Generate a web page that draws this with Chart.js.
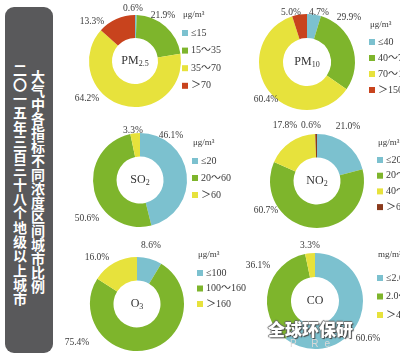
<!DOCTYPE html>
<html>
<head>
<meta charset="utf-8">
<script src="https://cdn.jsdelivr.net/npm/chart.js@4.4.1/dist/chart.umd.min.js"></script>
<style>
  html, body { margin: 0; padding: 0; background: #fff; }
  body { width: 400px; height: 360px; position: relative; overflow: hidden; }
  #side { position: absolute; left: 5px; top: 7px; width: 48px; height: 346px; background: #59595b; border-radius: 9px; }
  .col { position: absolute; writing-mode: vertical-rl; color: #fff; font-family: "Noto Sans CJK SC"; font-weight: bold; font-size: 14px; line-height: 14px; white-space: nowrap; }
  canvas { position: absolute; }
  #wm { position: absolute; left: 268px; top: 316px; font-family: "Noto Sans CJK SC"; font-weight: 900; font-size: 17px; color: #fff;
        text-shadow: 1px 1px 1px #444, -1px 0 1px #666, 0 -1px 1px #666; white-space: nowrap; }
  #wm2 { position: absolute; left: 290px; top: 338px; font-family: "Liberation Sans"; font-size: 10px; color: #d8d8d8; letter-spacing: 6px; }
</style>
</head>
<body>
<div id="side"></div>
<div class="col" style="left:31px; top:70px;">大气中各指标不同浓度区间城市比例</div>
<div class="col" style="left:13px; top:63px; letter-spacing:0.3px;">二〇一五年三百三十八个地级以上城市</div>

<canvas id="pm25"></canvas>
<canvas id="pm10"></canvas>
<canvas id="so2"></canvas>
<canvas id="no2"></canvas>
<canvas id="o3"></canvas>
<canvas id="co"></canvas>

<div id="wm">全球环保研</div>
<div id="wm2">P Re</div>

<script>
// ---- data (percent of cities in each concentration band) ----
const pm25Labels = ["≤15", "15～35", "35～70", "＞70"];
const pm25Values = [0.6, 21.9, 64.2, 13.3];

const pm10Labels = ["≤40", "40～70", "70～150", "＞150"];
const pm10Values = [4.7, 29.9, 60.4, 5.0];

const so2Labels = ["≤20", "20～60", "＞60"];
const so2Values = [46.1, 50.6, 3.3];

const no2Labels = ["≤20", "20～40", "40～60", "＞60"];
const no2Values = [21.0, 60.7, 17.8, 0.6];

const o3Labels = ["≤100", "100～160", "＞160"];
const o3Values = [8.6, 75.4, 16.0];

const coLabels = ["≤2.0", "2.0～4.0", "＞4.0"];
const coValues = [60.6, 36.1, 3.3];

// ---- colours ----
const BLUE = "#7cc1cf";
const GREEN = "#7eb52c";
const YELLOW = "#e7e23c";
const RED = "#c8431d";
const BROWN = "#8a3a1c";

// ---- layout: canvas box, ring centre/radius, label offsets, legend spot ----
const panels = [
  { id: "pm25", name: ["PM", "2.5"], unit: "μg/m³", labels: pm25Labels, values: pm25Values,
    colors: [BLUE, GREEN, YELLOW, RED], box: [55, 0, 200, 125], cx: 135, cy: 61, r: 46,
    pct: [[-2, -53], [28, -46], [-48, 37], [-43, -40]], legend: [182, 15, 33, 17.6] },
  { id: "pm10", name: ["PM", "10"], unit: "μg/m³", labels: pm10Labels, values: pm10Values,
    colors: [BLUE, GREEN, YELLOW, RED], box: [230, 0, 170, 125], cx: 307, cy: 62, r: 48,
    pct: [[12, -50], [42, -45], [-41, 37], [-16, -50]], legend: [369, 25, 42, 16] },
  { id: "so2", name: ["SO", "2"], unit: "μg/m³", labels: so2Labels, values: so2Values,
    colors: [BLUE, GREEN, YELLOW], box: [55, 112, 200, 128], cx: 140, cy: 180, r: 47,
    pct: [[31, -45], [-53, 38], [-7, -50]], legend: [192, 143, 161, 17] },
  { id: "no2", name: ["NO", "2"], unit: "μg/m³", labels: no2Labels, values: no2Values,
    colors: [BLUE, GREEN, YELLOW, BROWN], box: [230, 112, 170, 128], cx: 317, cy: 181, r: 47,
    pct: [[31, -55], [-51, 29], [-32, -56], [-6, -56]], legend: [377, 143, 160, 15.7] },
  { id: "o3", name: ["O", "3"], unit: "μg/m³", labels: o3Labels, values: o3Values,
    colors: [BLUE, GREEN, YELLOW], box: [55, 232, 200, 128], cx: 137, cy: 304, r: 47,
    pct: [[14, -59], [-60, 38], [-40, -47]], legend: [197, 255, 273, 15.5] },
  { id: "co", name: ["CO", ""], unit: "mg/m³", labels: coLabels, values: coValues,
    colors: [BLUE, GREEN, YELLOW], box: [230, 232, 170, 128], cx: 315, cy: 301, r: 48,
    pct: [[53, 37], [-57, -36], [-5, -56]], legend: [377, 255, 278, 18.5] }
];

const SERIF = '"Liberation Serif", "Noto Sans CJK SC", serif';

// draws centre name, percent labels and the small legend
const annotate = {
  id: "annotate",
  afterDraw(chart, args, opts) {
    const p = opts.panel;
    const ctx = chart.ctx;
    const arc = chart.getDatasetMeta(0).data[0];
    const x0 = arc.x, y0 = arc.y;
    ctx.save();
    ctx.textBaseline = "middle";

    // centre name with subscript
    ctx.font = "12px " + SERIF;
    const w1 = ctx.measureText(p.name[0]).width;
    ctx.font = "8px " + SERIF;
    const w2 = ctx.measureText(p.name[1]).width;
    let sx = x0 - (w1 + w2) / 2;
    ctx.fillStyle = "#333";
    ctx.textAlign = "left";
    ctx.font = "12px " + SERIF;
    ctx.fillText(p.name[0], sx, y0);
    ctx.font = "8px " + SERIF;
    ctx.fillText(p.name[1], sx + w1, y0 + 3);

    // percent labels
    ctx.font = "9.5px " + SERIF;
    ctx.textAlign = "center";
    ctx.fillStyle = "#3a3a3a";
    p.values.forEach((v, i) => {
      ctx.fillText(v.toFixed(1) + "%", x0 + p.pct[i][0], y0 + p.pct[i][1]);
    });

    // legend
    const lx = p.legend[0] - p.box[0];
    const ly = p.legend[1] - p.box[1];
    ctx.textAlign = "left";
    ctx.font = "9px " + SERIF;
    ctx.fillText(p.unit, lx + 1, ly);
    ctx.font = "10px " + SERIF;
    p.labels.forEach((lab, i) => {
      const y = p.legend[2] - p.box[1] + i * p.legend[3];
      ctx.fillStyle = p.colors[i];
      ctx.fillRect(lx, y - 3, 6, 6);
      ctx.fillStyle = "#3a3a3a";
      ctx.fillText(lab, lx + 9, y);
    });
    ctx.restore();
  }
};

panels.forEach(p => {
  const cv = document.getElementById(p.id);
  const [bx, by, bw, bh] = p.box;
  cv.width = bw;
  cv.height = bh;
  cv.style.left = bx + "px";
  cv.style.top = by + "px";

  new Chart(cv, {
    type: "doughnut",
    data: {
      labels: p.labels,
      datasets: [{
        data: p.values,
        backgroundColor: p.colors,
        borderWidth: 0
      }]
    },
    options: {
      responsive: false,
      animation: false,
      devicePixelRatio: 1,
      cutout: "50%",
      layout: {
        padding: {
          left: p.cx - p.r - bx,
          top: p.cy - p.r - by,
          right: bw - (p.cx + p.r - bx),
          bottom: bh - (p.cy + p.r - by)
        }
      },
      plugins: {
        legend: { display: false },
        tooltip: { enabled: false },
        annotate: { panel: p }
      }
    },
    plugins: [annotate]
  });
});
</script>
</body>
</html>
